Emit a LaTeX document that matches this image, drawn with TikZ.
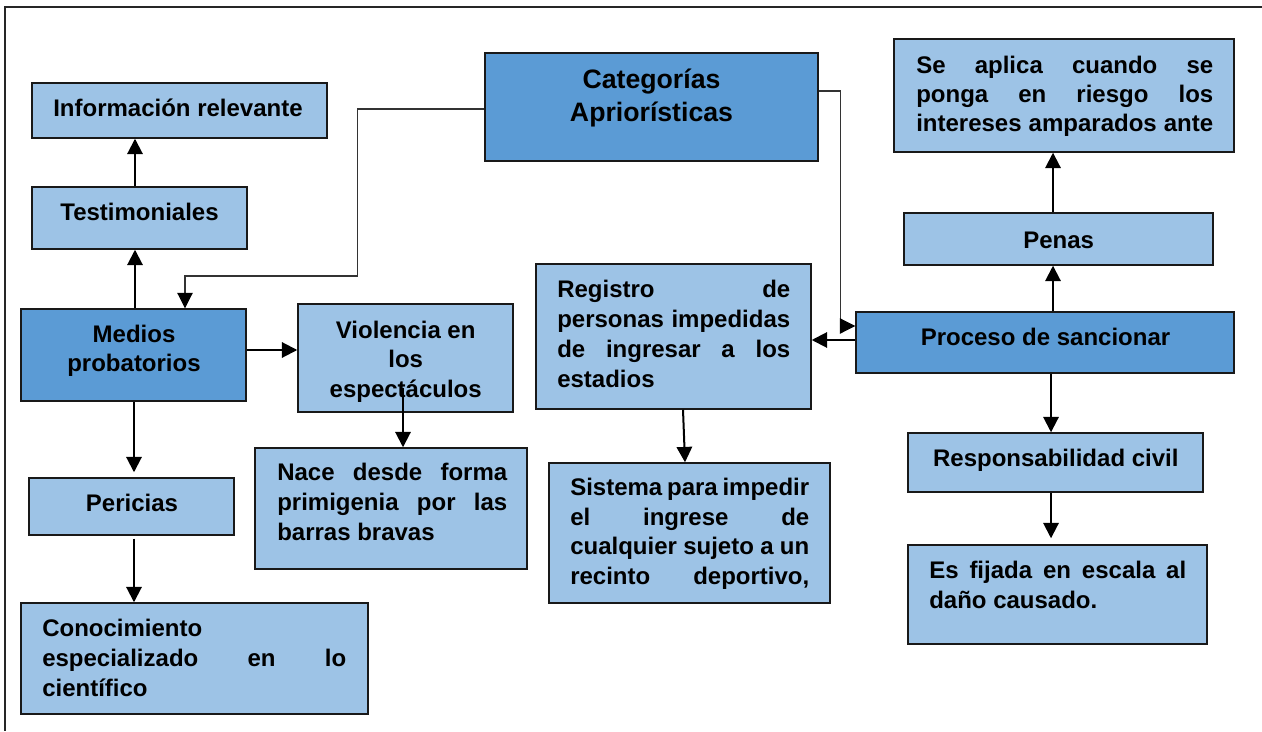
\documentclass[tikz,border=0pt]{standalone}
\usepackage{fontspec}
\setmainfont{Liberation Sans}
\usetikzlibrary{arrows.meta,fit,calc}
\definecolor{lightb}{HTML}{9DC3E6}
\definecolor{darkb}{HTML}{5B9BD5}
\newcommand\Jl[2]{\hbox to #1{#2}}
\newcommand\Ll[2]{\hbox to #1{#2\hfil}}
\newcommand\Cl[2]{\hbox to #1{\hfil#2\hfil}}
\newcommand\stack[2]{\vtop{\baselineskip=#1\relax #2}}
\hbadness=10000
\begin{document}
\begin{tikzpicture}[x=0.75pt,y=-0.75pt,
 lbox/.style={draw=black!90, line width=1.1pt, fill=lightb, inner sep=0pt},
 dbox/.style={draw=black!90, line width=1.1pt, fill=darkb, inner sep=0pt},
 txt/.style={inner sep=0pt, font=\bfseries\fontsize{18pt}{21.75pt}\selectfont},
 arr/.style={line width=1.5pt, -{Triangle[length=11.5pt,width=11.5pt]}},
 thinarr/.style={line width=0.8pt, draw=black!80, -{Triangle[length=11.5pt,width=11.5pt,color=black]}},
 frame/.style={line width=1.1pt, draw=black!85}]

\useasboundingbox (0,0) rectangle (1262,731);
\coordinate (fa) at (1262,7);
\coordinate (fb) at (5,7);
\coordinate (fc) at (5,731);
\draw[frame] (fa) -- (fb) -- (fc);

% boxes
\node[lbox, fit={(32,83)(327,138)}] (inf) {};
\node[lbox, fit={(32,187)(247,249)}] (test) {};
\node[dbox, fit={(485,53)(818,161)}] (cat) {};
\node[lbox, fit={(894,39)(1234,152)}] (sea) {};
\node[lbox, fit={(904,213)(1213,265)}] (pen) {};
\node[dbox, fit={(856,312)(1234,373)}] (pro) {};
\node[dbox, fit={(21,309)(246,401)}] (med) {};
\node[lbox, fit={(298,304)(513,412)}] (vio) {};
\node[lbox, fit={(255,448)(527,569)}] (nac) {};
\node[lbox, fit={(29,478)(234,535)}] (per) {};
\node[lbox, fit={(21,603)(368,714)}] (con) {};
\node[lbox, fit={(536,264)(811,409)}] (reg) {};
\node[lbox, fit={(549,463)(830,603)}] (sis) {};
\node[lbox, fit={(908,433)(1203,492)}] (res) {};
\node[lbox, fit={(908,545)(1207,644)}] (esf) {};

% texts
\node[txt, anchor=base] (inf-t) at (178,117) {Información relevante};
\node[txt, anchor=base] (test-t) at (139.5,220) {Testimoniales};
\node[txt, anchor=base, font=\bfseries\fontsize{20pt}{24pt}\selectfont] (cat-t) at (651.5,89)
  {\stack{24.75pt}{\Cl{130pt}{Categorías}\Cl{130pt}{Apriorísticas}}};
\node[txt, anchor=base west] (sea-t) at (916,73.3)
  {\stack{21.75pt}{\Jl{222.75pt}{Se aplica cuando se}\Jl{222.75pt}{ponga en riesgo los}\Jl{222.75pt}{intereses amparados ante}}};
\node[txt, anchor=base] (pen-t) at (1058.7,248.3) {Penas};
\node[txt, anchor=base] (pro-t) at (1045.5,345) {Proceso de sancionar};
\node[txt, anchor=base] (med-t) at (134,342.7)
  {\stack{21.75pt}{\Cl{110pt}{Medios}\Cl{110pt}{probatorios}}};
\node[txt, anchor=base] (vio-t) at (405.7,338.3)
  {\stack{22.1pt}{\Cl{130pt}{Violencia en}\Cl{130pt}{los}\Cl{130pt}{espectáculos}}};
\node[txt, anchor=base west] (nac-t) at (277,480.7)
  {\stack{22.25pt}{\Jl{172.5pt}{Nace desde forma}\Jl{172.5pt}{primigenia por las}\Ll{172.5pt}{barras bravas}}};
\node[txt, anchor=base] (per-t) at (132,511.7) {Pericias};
\node[txt, anchor=base west] (con-t) at (42,636.7)
  {\stack{22.25pt}{\Ll{228pt}{Conocimiento}\Jl{228pt}{especializado en lo}\Ll{228pt}{científico}}};
\node[txt, anchor=base west] (reg-t) at (557,297)
  {\stack{22.5pt}{\Jl{174.75pt}{Registro de}\Jl{174.75pt}{personas impedidas}\Jl{174.75pt}{de ingresar a los}\Ll{174.75pt}{estadios}}};
\node[txt, anchor=base west] (sis-t) at (570,495.7)
  {\stack{22.1pt}{\Jl{179.25pt}{Sistema para impedir}\Jl{179.25pt}{el ingrese de}\Jl{179.25pt}{cualquier sujeto a un}\Jl{179.25pt}{recinto deportivo,}}};
\node[txt, anchor=base] (res-t) at (1055.8,466.7) {Responsabilidad civil};
\node[txt, anchor=base west] (esf-t) at (929,578.3)
  {\stack{22.5pt}{\Jl{192.75pt}{Es fijada en escala al}\Ll{192.75pt}{daño causado.}}};

% connectors
\draw[arr] ($(test.north)+(-4.5,0)$) -- ($(test.north |- inf.south)+(-4.5,0)$);
\draw[arr] ($(med.north)+(1.5,0)$) -- ($(med.north |- test.south)+(1.5,0)$);
\draw[arr] ($(med.south)+(0.5,0)$) -- ($(med.south |- per.north)+(0.5,-5)$);
\draw[arr] ($(per.south)+(2.5,3)$) -- ($(per.south |- con.north)+(2.5,0)$);
\draw[arr] ($(med.east)+(0,-5)$) -- ($(med.east -| vio.west)+(0,-5)$);
\draw[arr] ($(vio.south)+(-2.5,-25)$) -- ($(vio.south |- nac.north)+(-2.5,0)$);
\draw[thinarr] ($(cat.west)+(0,2)$) -- ++(-127,0) -- ++(0,167) -| ($(med.north)+(51.5,0)$);
\draw[thinarr] ($(cat.east)+(0,-16)$) -- ++(22,0) |- ($(pro.west)+(0,-16.5)$);
\draw[arr] ($(pro.west)+(0,-2.5)$) -- ($(pro.west -| reg.east)+(0,-2.5)$);
\draw[arr] ($(reg.south)+(9.5,0)$) -- ($(sis.north)+(-4.5,0)$);
\draw[arr] ($(pro.north)+(8,0)$) -- ($(pro.north |- pen.south)+(8,0)$);
\draw[arr] ($(pen.north)+(-5.5,0)$) -- ($(pen.north |- sea.south)+(-5.5,0)$);
\draw[arr] ($(pro.south)+(6,0)$) -- ($(pro.south |- res.north)+(6,0)$);
\draw[arr] ($(res.south)+(-4.5,0)$) -- ($(res.south |- esf.north)+(-4.5,-6)$);
\end{tikzpicture}
\end{document}
